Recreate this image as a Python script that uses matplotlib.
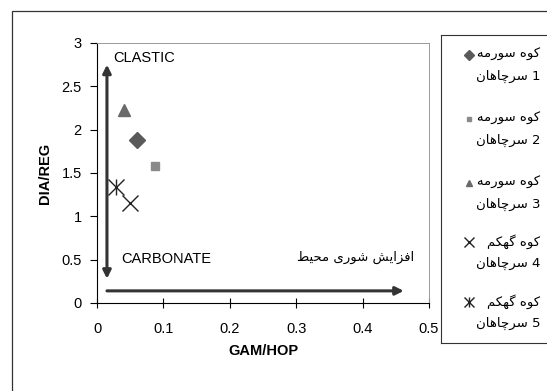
import matplotlib
matplotlib.use("Agg")
import matplotlib.pyplot as plt
from matplotlib.patches import Rectangle

plt.rcParams['font.family'] = ['Liberation Sans', 'DejaVu Sans']

# data
gam_hop = [0.060, 0.088, 0.040, 0.050, 0.029]
dia_reg = [1.88, 1.58, 2.23, 1.15, 1.34]

# legend labels, written in visual (left-to-right) order with Arabic presentation forms
line1 = [
    "\uFEEA\uFEE3\uFEAD\uFEEE\uFEB3 \uFEE9\uFEEE\uFB90",   # کوه سورمه
    "\uFEEA\uFEE3\uFEAD\uFEEE\uFEB3 \uFEE9\uFEEE\uFB90",
    "\uFEEA\uFEE3\uFEAD\uFEEE\uFEB3 \uFEE9\uFEEE\uFB90",
    "\uFEE2\uFB91\uFEEC\uFB94 \uFEE9\uFEEE\uFB90",         # کوه گهکم
    "\uFEE2\uFB91\uFEEC\uFB94 \uFEE9\uFEEE\uFB90",
]
sarchahan = "\uFEE5\uFE8E\uFEEB\uFE8E\uFB7C\uFEAE\uFEB3"  # سرچاهان
line2 = [sarchahan + " " + n for n in ["1", "2", "3", "4", "5"]]
salinity = ("\uFEC2\uFBFF\uFEA4\uFEE3 \uFBFC\uFEAD\uFEEE\uFEB7 "
            "\uFEB6\uFBFE\uFE8D\uFEB0\uFED3\uFE8D")          # افزایش شوری محیط

markers = ['D', 's', '^', 'x', 'x']
colors = ['#5a5a5a', '#8a8a8a', '#6a6a6a', '#222222', '#222222']
sizes = [8, 6, 8, 12, 12]

W, H = 547, 391
fig = plt.figure(figsize=(W / 100, H / 100), dpi=100)

# outer chart frame
fig.patches.append(Rectangle((12 / W, -0.05), 1.1, 1 - 11 / H + 0.05,
                             transform=fig.transFigure, fill=False,
                             lw=0.9, ec='#333333'))

ax = fig.add_axes([97 / W, 1 - 303 / H, 332 / W, 260 / H])
for i in range(5):
    ax.plot(gam_hop[i], dia_reg[i], ls='none', marker=markers[i],
            color=colors[i], ms=sizes[i], mew=1.0)
    if i == 4:
        ax.plot(gam_hop[i], dia_reg[i], ls='none', marker='|',
                color=colors[i], ms=sizes[i], mew=1.0)

ax.set_xlim(0, 0.5)
ax.set_ylim(0, 3)
ax.set_xticks([0, 0.1, 0.2, 0.3, 0.4, 0.5])
ax.set_xticklabels(['0', '0.1', '0.2', '0.3', '0.4', '0.5'])
ax.set_yticks([0, 0.5, 1, 1.5, 2, 2.5, 3])
ax.set_yticklabels(['0', '0.5', '1', '1.5', '2', '2.5', '3'])
ax.tick_params(axis='x', direction='inout', length=7, pad=10, labelsize=10.5)
ax.tick_params(axis='y', direction='out', length=5, pad=6, labelsize=10.5)
ax.spines['top'].set_color('#999999')
ax.spines['right'].set_color('#999999')
ax.spines['top'].set_linewidth(0.7)
ax.spines['right'].set_linewidth(0.7)
ax.set_xlabel('GAM/HOP', fontweight='bold', fontsize=10.5, labelpad=6)
ax.set_ylabel('DIA/REG', fontweight='bold', fontsize=10.5, labelpad=7)

# arrows and annotations
ax.annotate('', xy=(0.015, 2.75), xytext=(0.015, 0.28),
            arrowprops=dict(arrowstyle='<|-|>', color='#333333', lw=2.2,
                            mutation_scale=12, shrinkA=0, shrinkB=0))
ax.annotate('', xy=(0.462, 0.14), xytext=(0.015, 0.14),
            arrowprops=dict(arrowstyle='-|>', color='#333333', lw=2.2,
                            mutation_scale=12, shrinkA=0, shrinkB=0))
ax.text(0.024, 2.83, 'CLASTIC', fontsize=10.5, va='center', ha='left')
ax.text(0.036, 0.51, 'CARBONATE', fontsize=10.5, va='center', ha='left')
ax.text(0.478, 0.53, salinity, fontsize=9.5, va='center', ha='right',
        family=['DejaVu Sans'])

# legend box
lg = fig.add_axes([441 / W, 1 - 343 / H, 120 / W, 308 / H])
lg.set_xlim(441, 561)
lg.set_ylim(343, 35)
lg.set_xticks([])
lg.set_yticks([])
for s in lg.spines.values():
    s.set_linewidth(0.8)
    s.set_color('#333333')
row_y = [55, 119, 183, 242, 302]
for i in range(5):
    y = row_y[i]
    lg.plot(469, y, ls='none', marker=markers[i], color=colors[i],
            ms=sizes[i] * 0.6, mew=1.0)
    if i == 4:
        lg.plot(469, y, ls='none', marker='|', color=colors[i],
                ms=sizes[i] * 0.6, mew=1.0)
    lg.text(540, y, line1[i], fontsize=9.5, va='center', ha='right',
            family=['DejaVu Sans'])
    lg.text(540, y + 21, line2[i], fontsize=9.5, va='center', ha='right',
            family=['DejaVu Sans'])

fig.savefig('out.png', dpi=100)
